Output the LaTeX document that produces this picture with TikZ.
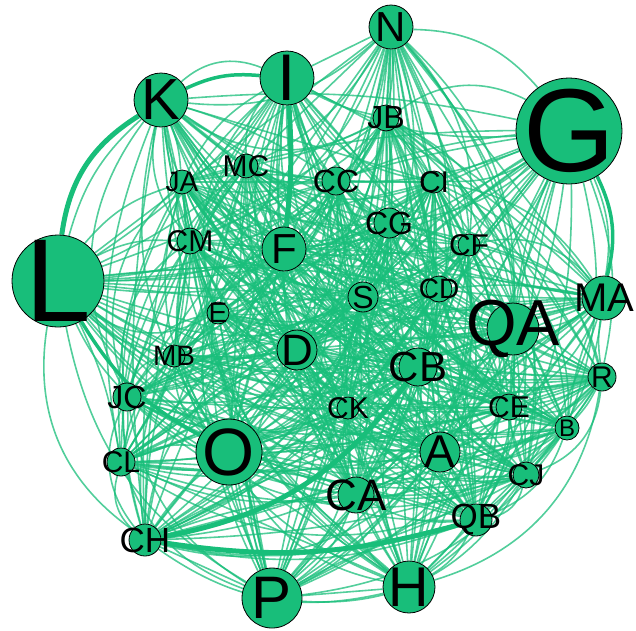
\documentclass[tikz,border=0pt]{standalone}
\usepackage{fontspec}
\setmainfont{Liberation Sans}
\usetikzlibrary{backgrounds}
\definecolor{netgreen}{RGB}{24,190,122}

\begin{document}
\begin{tikzpicture}[
    x=1pt, y=-1pt,
    vtx/.style={circle, draw=black, line width=0.8pt, fill=netgreen, inner sep=0pt},
    tie/.style={netgreen, line width=1.6pt, opacity=0.75},
    strongtie/.style={netgreen, line width=5pt}
]
    \useasboundingbox (0,0) rectangle (636,630);

    % Vertices: name/x/y/radius/font size
    \foreach \n/\x/\y/\r/\f in {
        N/391/27/22/42, I/287/78/27/66, K/161/100/27/58, G/569/131/53/118,
        JB/386/118/13/32, MC/246/166/12/30, JA/182/182/12/28, CC/336/181/14/32,
        CI/434/182/11/30, CG/389/223/15/32, CM/190/241/13/30, F/284/249/22/42,
        CF/469/245/11/30, L/58/281/46/118, S/363/297/15/32, CD/439/289/13/28,
        MA/604/298/22/40, E/218/313/11/28, QA/513/329/26/65, D/297/350/20/44,
        MB/174/356/11/28, CB/418/367/19/42, R/602/377/14/30, JC/127/397/14/32,
        CK/348/408/11/30, CE/509/407/13/30, B/567/428/12/24, O/229/452/33/67,
        A/440/452/20/46, CL/121/462/14/30, CJ/526/475/13/30, CA/356/495/18/44,
        QB/476/520/16/35, CH/145/540/16/35, H/409/587/26/56, P/272/598/30/60}
    {
        \node[vtx, minimum size=2*\r pt,
              label={[font=\fontsize{\f}{\f}\selectfont]center:\n}] (\n) at (\x,\y) {};
    }

    \begin{pgfonlayer}{background}
    % Ties between vertices
    \foreach \a [count=\i] in {N,JB,G,CI,CF,MA,QA,R,CE,B,CJ,QB,H,A,CA,CK,CB,CD,S,CG,CC,
                               P,CH,CL,O,JC,MB,D,E,L,CM,F,JA,MC,K,I}
    {
        \foreach \b [count=\j] in {N,JB,G,CI,CF,MA,QA,R,CE,B,CJ,QB,H,A,CA,CK,CB,CD,S,CG,CC,
                                   P,CH,CL,O,JC,MB,D,E,L,CM,F,JA,MC,K,I}
        {
            \ifnum\j>\i
                \pgfmathtruncatemacro\k{mod(\i*7+\j*3,6)}
                \draw[tie] (\a) to[bend left=\k*8-8] (\b);
            \fi
        }
    }

    % Strong ties
    \draw[strongtie] (K) to[bend right=25] (L);
    \draw[strongtie] (I) to[bend left=5] (F);
    \draw[strongtie] (CH) to[bend right=22] (CB);
    \draw[strongtie] (CH) to[bend right=12] (QB);
    \draw[strongtie, line width=3.5pt] (G) to[bend left=20] (MA);
    \draw[strongtie, line width=3.5pt] (L) to[bend right=15] (O);
    \draw[strongtie, line width=3.5pt] (K) to[bend left=15] (I);
    \end{pgfonlayer}
\end{tikzpicture}
\end{document}
